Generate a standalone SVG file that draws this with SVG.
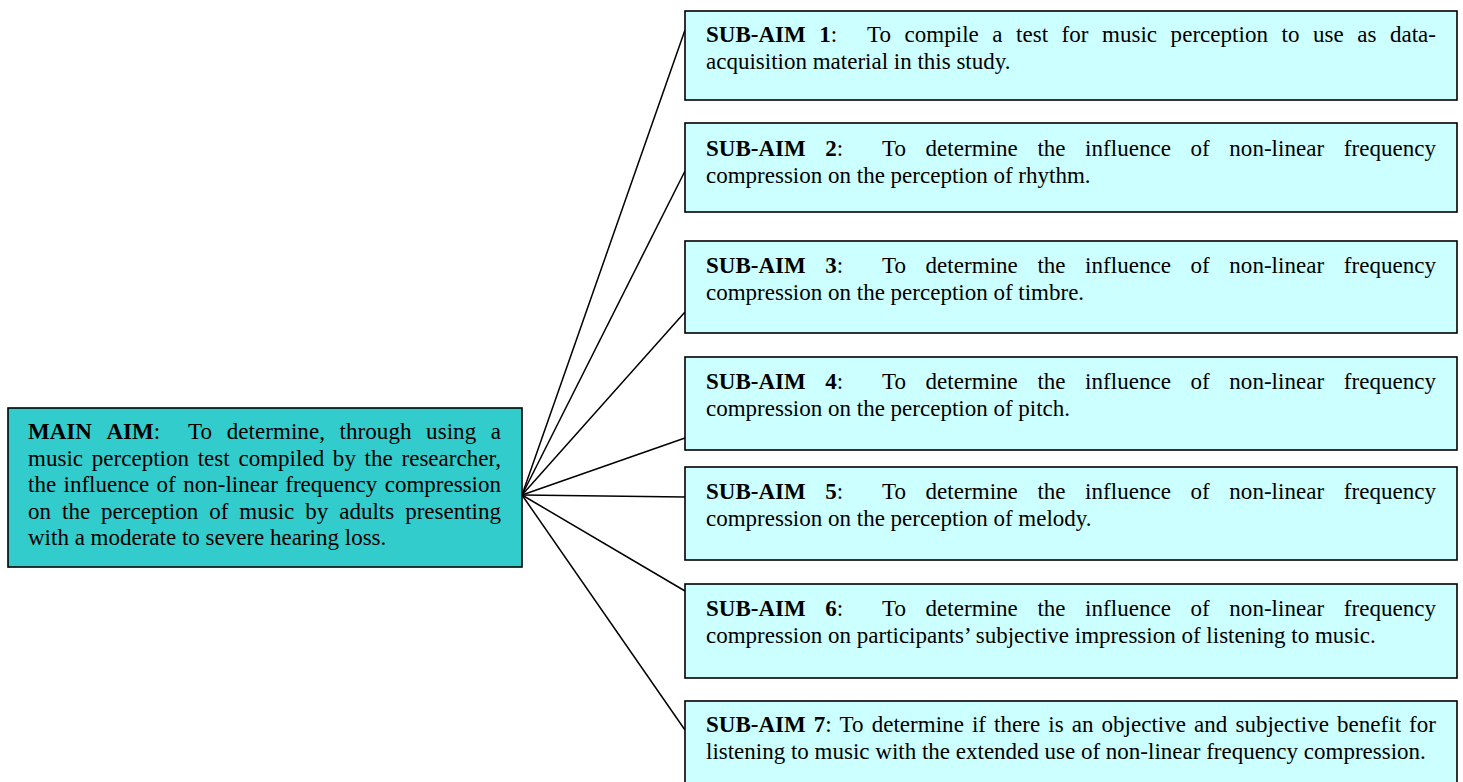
<svg xmlns="http://www.w3.org/2000/svg" width="1463" height="782" viewBox="0 0 1463 782">
<style>
.bg{fill:#ffffff}
.main{fill:#33CCCC;stroke:#000;stroke-width:1.6}
.sub{fill:#CCFFFF;stroke:#000;stroke-width:1.6}
.conn line{stroke:#000;stroke-width:1.5}
text{font-family:"Liberation Serif","Times New Roman",serif;font-size:23px;fill:#000}
.b{font-weight:bold}
</style>
<rect class="bg" x="0" y="0" width="1463" height="782"/>
<g id="connectors" class="conn">
<line x1="522" y1="495" x2="685" y2="30"/>
<line x1="522" y1="495" x2="685" y2="171"/>
<line x1="522" y1="495" x2="685" y2="312"/>
<line x1="522" y1="495" x2="685" y2="438"/>
<line x1="522" y1="495" x2="685" y2="497"/>
<line x1="522" y1="495" x2="685" y2="591"/>
<line x1="522" y1="495" x2="685" y2="730"/>
</g>
<g id="main-aim">
<rect class="main" x="8" y="408" width="514" height="159"/>
<text x="28" y="439" class="b">MAIN</text>
<text x="106.4" y="439"><tspan class="b">AIM</tspan>:</text>
<text x="188" y="439" textLength="313" lengthAdjust="spacing" style="word-spacing:8.75px">To determine, through using a</text>
<text x="28" y="465.5" textLength="473" lengthAdjust="spacing" style="word-spacing:2.95px">music perception test compiled by the researcher,</text>
<text x="28" y="492" textLength="473" lengthAdjust="spacing" style="word-spacing:1.7px">the influence of non-linear frequency compression</text>
<text x="28" y="518.5" textLength="473" lengthAdjust="spacing" style="word-spacing:5.25px">on the perception of music by adults presenting</text>
<text x="28" y="545">with a moderate to severe hearing loss.</text>
</g>
<g id="sub-aim-1">
<rect class="sub" x="685" y="11" width="772" height="89"/>
<text x="706" y="42" class="b">SUB-AIM</text>
<text x="819.2" y="42"><tspan class="b">1</tspan>:</text>
<text x="867" y="42" textLength="569" lengthAdjust="spacing" style="word-spacing:7.71px">To compile a test for music perception to use as data-</text>
<text x="706" y="69">acquisition material in this study.</text>
</g>
<g id="sub-aim-2">
<rect class="sub" x="685" y="123" width="772" height="89"/>
<text x="706" y="156" class="b">SUB-AIM</text>
<text x="825.2" y="156"><tspan class="b">2</tspan>:</text>
<text x="882" y="156" textLength="554" lengthAdjust="spacing" style="word-spacing:13.75px">To determine the influence of non-linear frequency</text>
<text x="706" y="183">compression on the perception of rhythm.</text>
</g>
<g id="sub-aim-3">
<rect class="sub" x="685" y="241" width="772" height="92"/>
<text x="706" y="273" class="b">SUB-AIM</text>
<text x="825.2" y="273"><tspan class="b">3</tspan>:</text>
<text x="882" y="273" textLength="554" lengthAdjust="spacing" style="word-spacing:13.75px">To determine the influence of non-linear frequency</text>
<text x="706" y="300">compression on the perception of timbre.</text>
</g>
<g id="sub-aim-4">
<rect class="sub" x="685" y="357" width="772" height="93"/>
<text x="706" y="389" class="b">SUB-AIM</text>
<text x="825.2" y="389"><tspan class="b">4</tspan>:</text>
<text x="882" y="389" textLength="554" lengthAdjust="spacing" style="word-spacing:13.75px">To determine the influence of non-linear frequency</text>
<text x="706" y="416">compression on the perception of pitch.</text>
</g>
<g id="sub-aim-5">
<rect class="sub" x="685" y="467" width="772" height="93"/>
<text x="706" y="499" class="b">SUB-AIM</text>
<text x="825.2" y="499"><tspan class="b">5</tspan>:</text>
<text x="882" y="499" textLength="554" lengthAdjust="spacing" style="word-spacing:13.75px">To determine the influence of non-linear frequency</text>
<text x="706" y="526">compression on the perception of melody.</text>
</g>
<g id="sub-aim-6">
<rect class="sub" x="685" y="584" width="772" height="94"/>
<text x="706" y="616" class="b">SUB-AIM</text>
<text x="825.2" y="616"><tspan class="b">6</tspan>:</text>
<text x="882" y="616" textLength="554" lengthAdjust="spacing" style="word-spacing:13.75px">To determine the influence of non-linear frequency</text>
<text x="706" y="643">compression on participants’ subjective impression of listening to music.</text>
</g>
<g id="sub-aim-7">
<rect class="sub" x="685" y="701" width="772" height="95"/>
<text x="706" y="732" class="b">SUB-AIM</text>
<text x="813.7" y="732"><tspan class="b">7</tspan>:</text>
<text x="839.6" y="732" textLength="596.4" lengthAdjust="spacing" style="word-spacing:2.25px">To determine if there is an objective and subjective benefit for</text>
<text x="706" y="759">listening to music with the extended use of non-linear frequency compression.</text>
</g>
</svg>
